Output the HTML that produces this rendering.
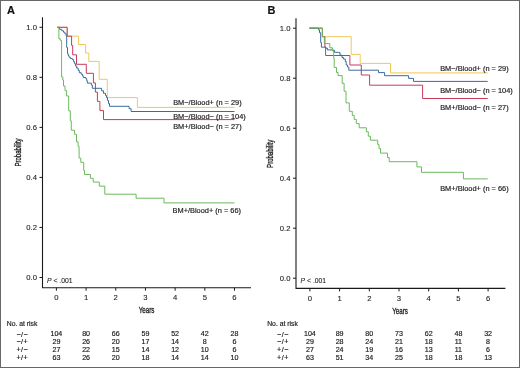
<!DOCTYPE html>
<html><head><meta charset="utf-8"><style>
html,body{margin:0;padding:0;background:#fff;width:520px;height:368px;overflow:hidden;}
svg{display:block;}
#w{will-change:transform;width:520px;height:368px;}
</style></head><body><div id="w">
<svg width="520" height="368" viewBox="0 0 520 368">
<style>
text { font-family: "Liberation Sans", sans-serif; fill: #222; stroke: #222; stroke-width: 0.18px; }
.t { font-size: 7.7px; stroke-width: 0.1px; }
.lab { font-size: 7.4px; }
.tb { font-size: 7.1px; }
.ttl { font-size: 9.2px; stroke:#222; stroke-width:0.35px; }
.pv { font-size: 6.8px; stroke-width: 0.08px; }
.big { font-size: 11px; font-weight: bold; fill:#111; }
.c { fill: none; stroke-width: 1.0; stroke-linejoin: miter; }
</style>
<rect x="0.5" y="0.5" width="519" height="367" fill="#fff" stroke="#686868" stroke-width="1"/>
<text x="6.9" y="13.8" class="big">A</text>
<text x="267.5" y="13.8" class="big">B</text>
<path d="M42.5 17.2V287.7H251" fill="none" stroke="#1a1a1a" stroke-width="1.1"/>
<path d="M39.5 277.50H42.5" stroke="#1a1a1a" stroke-width="1"/>
<text x="37.0" y="280.10" text-anchor="end" class="t">0.0</text>
<path d="M39.5 227.46H42.5" stroke="#1a1a1a" stroke-width="1"/>
<text x="37.0" y="230.06" text-anchor="end" class="t">0.2</text>
<path d="M39.5 177.42H42.5" stroke="#1a1a1a" stroke-width="1"/>
<text x="37.0" y="180.02" text-anchor="end" class="t">0.4</text>
<path d="M39.5 127.38H42.5" stroke="#1a1a1a" stroke-width="1"/>
<text x="37.0" y="129.98" text-anchor="end" class="t">0.6</text>
<path d="M39.5 77.34H42.5" stroke="#1a1a1a" stroke-width="1"/>
<text x="37.0" y="79.94" text-anchor="end" class="t">0.8</text>
<path d="M39.5 27.30H42.5" stroke="#1a1a1a" stroke-width="1"/>
<text x="37.0" y="29.90" text-anchor="end" class="t">1.0</text>
<path d="M56.40 287.7V290.7" stroke="#1a1a1a" stroke-width="1"/>
<text x="56.40" y="300.09999999999997" text-anchor="middle" class="t">0</text>
<path d="M86.08 287.7V290.7" stroke="#1a1a1a" stroke-width="1"/>
<text x="86.08" y="300.09999999999997" text-anchor="middle" class="t">1</text>
<path d="M115.76 287.7V290.7" stroke="#1a1a1a" stroke-width="1"/>
<text x="115.76" y="300.09999999999997" text-anchor="middle" class="t">2</text>
<path d="M145.44 287.7V290.7" stroke="#1a1a1a" stroke-width="1"/>
<text x="145.44" y="300.09999999999997" text-anchor="middle" class="t">3</text>
<path d="M175.12 287.7V290.7" stroke="#1a1a1a" stroke-width="1"/>
<text x="175.12" y="300.09999999999997" text-anchor="middle" class="t">4</text>
<path d="M204.80 287.7V290.7" stroke="#1a1a1a" stroke-width="1"/>
<text x="204.80" y="300.09999999999997" text-anchor="middle" class="t">5</text>
<path d="M234.48 287.7V290.7" stroke="#1a1a1a" stroke-width="1"/>
<text x="234.48" y="300.09999999999997" text-anchor="middle" class="t">6</text>
<path d="M296.0 18.2V288.4H505.4" fill="none" stroke="#1a1a1a" stroke-width="1.1"/>
<path d="M293.0 278.20H296.0" stroke="#1a1a1a" stroke-width="1"/>
<text x="290.5" y="280.80" text-anchor="end" class="t">0.0</text>
<path d="M293.0 228.20H296.0" stroke="#1a1a1a" stroke-width="1"/>
<text x="290.5" y="230.80" text-anchor="end" class="t">0.2</text>
<path d="M293.0 178.20H296.0" stroke="#1a1a1a" stroke-width="1"/>
<text x="290.5" y="180.80" text-anchor="end" class="t">0.4</text>
<path d="M293.0 128.20H296.0" stroke="#1a1a1a" stroke-width="1"/>
<text x="290.5" y="130.80" text-anchor="end" class="t">0.6</text>
<path d="M293.0 78.20H296.0" stroke="#1a1a1a" stroke-width="1"/>
<text x="290.5" y="80.80" text-anchor="end" class="t">0.8</text>
<path d="M293.0 28.20H296.0" stroke="#1a1a1a" stroke-width="1"/>
<text x="290.5" y="30.80" text-anchor="end" class="t">1.0</text>
<path d="M309.90 288.4V291.4" stroke="#1a1a1a" stroke-width="1"/>
<text x="309.90" y="301.4" text-anchor="middle" class="t">0</text>
<path d="M339.60 288.4V291.4" stroke="#1a1a1a" stroke-width="1"/>
<text x="339.60" y="301.4" text-anchor="middle" class="t">1</text>
<path d="M369.30 288.4V291.4" stroke="#1a1a1a" stroke-width="1"/>
<text x="369.30" y="301.4" text-anchor="middle" class="t">2</text>
<path d="M399.00 288.4V291.4" stroke="#1a1a1a" stroke-width="1"/>
<text x="399.00" y="301.4" text-anchor="middle" class="t">3</text>
<path d="M428.70 288.4V291.4" stroke="#1a1a1a" stroke-width="1"/>
<text x="428.70" y="301.4" text-anchor="middle" class="t">4</text>
<path d="M458.40 288.4V291.4" stroke="#1a1a1a" stroke-width="1"/>
<text x="458.40" y="301.4" text-anchor="middle" class="t">5</text>
<path d="M488.10 288.4V291.4" stroke="#1a1a1a" stroke-width="1"/>
<text x="488.10" y="301.4" text-anchor="middle" class="t">6</text>
<path class="c" stroke="#f2c85a" d="M57.3 27.3H67.1V36.1H78.4V44.5H85.6V53H88.8V61.4H99.2V79.3H107.3V97.6H137.4V107.4H234.5"/>
<path class="c" stroke="#c93a58" d="M57.3 27.3H67.2V36.2H71.6V45.4H72.7V54.8H76.5V64.3H86.3V73.3H93.4V82.9H95.4V92.1H97.4V101.4H99.9V110.6H103.5V119.6H234.5"/>
<path class="c" stroke="#3d6a9e" d="M57.3 27.3H59.5V29.3H61.8V30.8H63.5V32.2H64.9V33.7H66.2V36.3H66.7V47.5H67.5V53.6H68.2V55.5H69V57.2H70.3V58.4H72.3V59.6H73.6V61.8H74.6V63.8H75.6V66H76.7V68.1H78.2V70.4H79.3V72.7H81.2V74.2H82.5V75.8H83.3V77.5H85.8V78.6H86.7V80.7H87.3V83.1H91.3V85.0H92.3V88.3H101.6V90.8H103.5V93.3H105.5V95.5H106.5V97.7H107.5V100.5H108.5V103.5H109.5V106.3H129.1V108.7H131.1V111.5H234.5"/>
<path class="c" stroke="#6cb95e" d="M57.3 27.3H58.9V38.8H60.3V40.4H61.6V77H62.8V80H63.5V86H65V90.6H66.6V96H68.7V110.8H70.3V120.8H71.3V130.2H74.6V134.3H76.5V141.8H78.1V146.4H79.1V158.1H80.8V162.3H83.7V170.4H84.5V174.5H90.4V178.3H93.2V182.1H99.3V186.1H104.8V194.2H136.1V198.2H164V202.9H234.5"/>
<path class="c" stroke="#f2c85a" d="M309.5 28.2H322.4V36.7H351.2V54.4H360.2V63.4H390.5V72.9H487.7"/>
<path class="c" stroke="#c93a58" d="M309.5 28.2H322.4V36.7H324.9V47H325.6V55.5H349.9V65H361.3V75H369.6V85.2H422.6V98.5H487.7"/>
<path class="c" stroke="#3d6a9e" d="M309.5 28.2H318.4V29.8H319.5V32.7H320.7V42.5H321.4V47.2H325.7V48.2H327.5V49.9H333.4V50.3H334.5V52.3H338.4V52.6H340V55.2H342V57.5H343.4V59H345.3V61.5H346.2V65H347.5V67H348.8V70.2H378.5V72.6H384.6V75.7H408.6V78.4H413.5V81.4H487.7"/>
<path class="c" stroke="#6cb95e" d="M309.5 28.2H322.4V36.7H324.3V43.6H329.8V47.8H332.5V51H333.7V58.3H334.2V67.5H336.5V72.5H338V75.6H342.2V83.3H344.1V91.2H346V102.9H349.3V111.3H352.3V115.5H354.2V119.4H356.3V123.6H359.2V127.8H366.4V131.7H368.3V136.2H370.4V140.2H377.7V144.4H379V148.6H380.5V153.1H387.5V157.5H389.2V161.7H416.9V166.9H421.5V172.3H463.4V178.9H487.7"/>
<text x="173.2" y="104.5" class="lab">BM−/Blood+ (n = 29)</text>
<text x="173.2" y="118.5" class="lab">BM−/Blood− (n = 104)</text>
<text x="173.2" y="128.6" class="lab">BM+/Blood− (n = 27)</text>
<text x="172.6" y="212.6" class="lab">BM+/Blood+ (n = 66)</text>
<text x="440.2" y="70.6" class="lab">BM−/Blood+ (n = 29)</text>
<text x="440.2" y="93.0" class="lab">BM−/Blood− (n = 104)</text>
<text x="440.2" y="110.0" class="lab">BM+/Blood− (n = 27)</text>
<text x="440.2" y="190.8" class="lab">BM+/Blood+ (n = 66)</text>
<text x="47" y="282.5" class="pv"><tspan font-style="italic">P</tspan> &lt; .001</text>
<text x="300.6" y="283.3" class="pv"><tspan font-style="italic">P</tspan> &lt; .001</text>
<text x="146.6" y="312.5" text-anchor="middle" class="ttl" textLength="15.7" lengthAdjust="spacingAndGlyphs">Years</text>
<text x="400.1" y="313.6" text-anchor="middle" class="ttl" textLength="15.7" lengthAdjust="spacingAndGlyphs">Years</text>
<text transform="translate(20.7 152.5) rotate(-90)" text-anchor="middle" class="ttl" textLength="28.2" lengthAdjust="spacingAndGlyphs">Probability</text>
<text transform="translate(273.1 153.8) rotate(-90)" text-anchor="middle" class="ttl" textLength="28.2" lengthAdjust="spacingAndGlyphs">Probability</text>
<text x="6.8" y="325.6" class="tb" style="font-size:6.8px">No. at risk</text>
<text x="16.400000000000002" y="336.5" class="tb" textLength="11.2" lengthAdjust="spacing">−/−</text>
<text x="56.40" y="336.2" text-anchor="middle" class="tb">104</text>
<text x="86.08" y="336.2" text-anchor="middle" class="tb">80</text>
<text x="115.76" y="336.2" text-anchor="middle" class="tb">66</text>
<text x="145.44" y="336.2" text-anchor="middle" class="tb">59</text>
<text x="175.12" y="336.2" text-anchor="middle" class="tb">52</text>
<text x="204.80" y="336.2" text-anchor="middle" class="tb">42</text>
<text x="234.48" y="336.2" text-anchor="middle" class="tb">28</text>
<text x="16.400000000000002" y="344.3" class="tb" textLength="11.2" lengthAdjust="spacing">−/+</text>
<text x="56.40" y="344.0" text-anchor="middle" class="tb">29</text>
<text x="86.08" y="344.0" text-anchor="middle" class="tb">26</text>
<text x="115.76" y="344.0" text-anchor="middle" class="tb">20</text>
<text x="145.44" y="344.0" text-anchor="middle" class="tb">17</text>
<text x="175.12" y="344.0" text-anchor="middle" class="tb">14</text>
<text x="204.80" y="344.0" text-anchor="middle" class="tb">8</text>
<text x="234.48" y="344.0" text-anchor="middle" class="tb">6</text>
<text x="16.400000000000002" y="352.1" class="tb" textLength="11.2" lengthAdjust="spacing">+/−</text>
<text x="56.40" y="351.8" text-anchor="middle" class="tb">27</text>
<text x="86.08" y="351.8" text-anchor="middle" class="tb">22</text>
<text x="115.76" y="351.8" text-anchor="middle" class="tb">15</text>
<text x="145.44" y="351.8" text-anchor="middle" class="tb">14</text>
<text x="175.12" y="351.8" text-anchor="middle" class="tb">12</text>
<text x="204.80" y="351.8" text-anchor="middle" class="tb">10</text>
<text x="234.48" y="351.8" text-anchor="middle" class="tb">6</text>
<text x="16.400000000000002" y="359.90000000000003" class="tb" textLength="11.2" lengthAdjust="spacing">+/+</text>
<text x="56.40" y="359.6" text-anchor="middle" class="tb">63</text>
<text x="86.08" y="359.6" text-anchor="middle" class="tb">26</text>
<text x="115.76" y="359.6" text-anchor="middle" class="tb">20</text>
<text x="145.44" y="359.6" text-anchor="middle" class="tb">18</text>
<text x="175.12" y="359.6" text-anchor="middle" class="tb">14</text>
<text x="204.80" y="359.6" text-anchor="middle" class="tb">14</text>
<text x="234.48" y="359.6" text-anchor="middle" class="tb">10</text>
<text x="267.2" y="325.6" class="tb" style="font-size:6.8px">No. at risk</text>
<text x="277.1" y="336.5" class="tb" textLength="11.2" lengthAdjust="spacing">−/−</text>
<text x="309.90" y="336.2" text-anchor="middle" class="tb">104</text>
<text x="339.60" y="336.2" text-anchor="middle" class="tb">89</text>
<text x="369.30" y="336.2" text-anchor="middle" class="tb">80</text>
<text x="399.00" y="336.2" text-anchor="middle" class="tb">73</text>
<text x="428.70" y="336.2" text-anchor="middle" class="tb">62</text>
<text x="458.40" y="336.2" text-anchor="middle" class="tb">48</text>
<text x="488.10" y="336.2" text-anchor="middle" class="tb">32</text>
<text x="277.1" y="344.3" class="tb" textLength="11.2" lengthAdjust="spacing">−/+</text>
<text x="309.90" y="344.0" text-anchor="middle" class="tb">29</text>
<text x="339.60" y="344.0" text-anchor="middle" class="tb">28</text>
<text x="369.30" y="344.0" text-anchor="middle" class="tb">24</text>
<text x="399.00" y="344.0" text-anchor="middle" class="tb">21</text>
<text x="428.70" y="344.0" text-anchor="middle" class="tb">18</text>
<text x="458.40" y="344.0" text-anchor="middle" class="tb">11</text>
<text x="488.10" y="344.0" text-anchor="middle" class="tb">8</text>
<text x="277.1" y="352.1" class="tb" textLength="11.2" lengthAdjust="spacing">+/−</text>
<text x="309.90" y="351.8" text-anchor="middle" class="tb">27</text>
<text x="339.60" y="351.8" text-anchor="middle" class="tb">24</text>
<text x="369.30" y="351.8" text-anchor="middle" class="tb">19</text>
<text x="399.00" y="351.8" text-anchor="middle" class="tb">16</text>
<text x="428.70" y="351.8" text-anchor="middle" class="tb">13</text>
<text x="458.40" y="351.8" text-anchor="middle" class="tb">11</text>
<text x="488.10" y="351.8" text-anchor="middle" class="tb">6</text>
<text x="277.1" y="359.90000000000003" class="tb" textLength="11.2" lengthAdjust="spacing">+/+</text>
<text x="309.90" y="359.6" text-anchor="middle" class="tb">63</text>
<text x="339.60" y="359.6" text-anchor="middle" class="tb">51</text>
<text x="369.30" y="359.6" text-anchor="middle" class="tb">34</text>
<text x="399.00" y="359.6" text-anchor="middle" class="tb">25</text>
<text x="428.70" y="359.6" text-anchor="middle" class="tb">18</text>
<text x="458.40" y="359.6" text-anchor="middle" class="tb">18</text>
<text x="488.10" y="359.6" text-anchor="middle" class="tb">13</text>
</svg>
</div></body></html>
